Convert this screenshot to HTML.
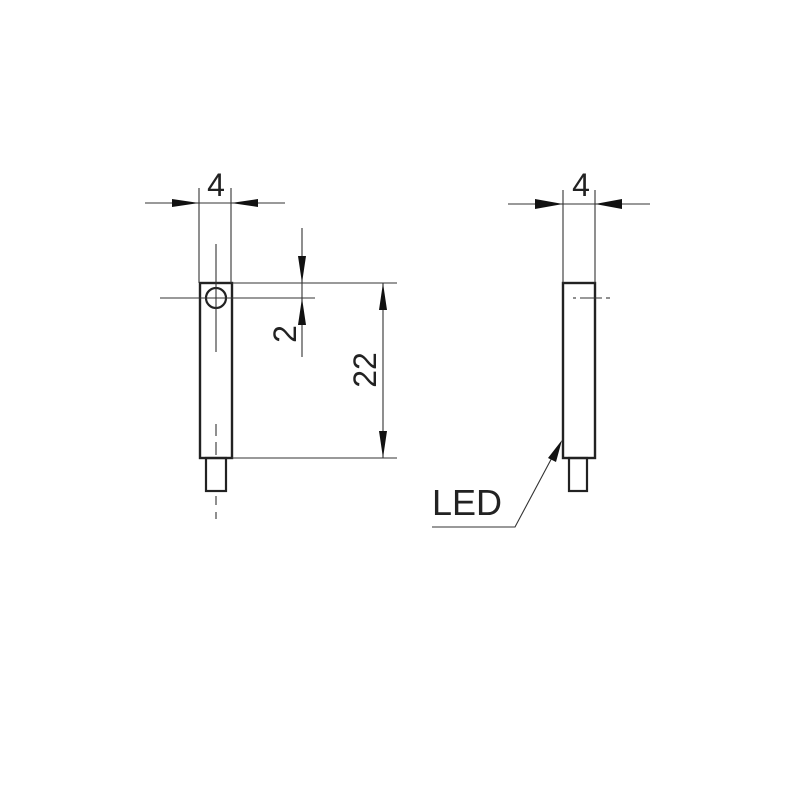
<!DOCTYPE html>
<html><head><style>body{margin:0;background:#fff}svg{display:block}</style></head><body>
<svg width="800" height="800" viewBox="0 0 800 800" xmlns="http://www.w3.org/2000/svg">
<rect width="800" height="800" fill="#fff"/>
<g stroke="#222" fill="none">
<rect x="200" y="283" width="32" height="175" stroke-width="2.4"/>
<circle cx="216" cy="298" r="10" stroke-width="2.2"/>
<rect x="206" y="458" width="20" height="33" stroke-width="2.2"/>
<rect x="563" y="283" width="32" height="175" stroke-width="2.4"/>
<rect x="569" y="458" width="18" height="33" stroke-width="2.2"/>
</g>
<g stroke="#333" stroke-width="1.1" fill="none">
<line x1="216" y1="244" x2="216" y2="352"/>
<line x1="216" y1="424" x2="216" y2="436"/><line x1="216" y1="442" x2="216" y2="455"/>
<line x1="216" y1="496" x2="216" y2="505"/><line x1="216" y1="512" x2="216" y2="519"/>
<line x1="160" y1="298" x2="315" y2="298"/>
<line x1="232" y1="283" x2="397" y2="283"/>
<line x1="232" y1="458" x2="397" y2="458"/>
<line x1="145" y1="203" x2="285" y2="203"/>
<line x1="199" y1="188" x2="199" y2="283"/>
<line x1="231" y1="188" x2="231" y2="283"/>
<line x1="302" y1="228" x2="302" y2="357"/>
<line x1="383" y1="283" x2="383" y2="458"/>
<line x1="508" y1="204" x2="650" y2="204"/>
<line x1="563" y1="190" x2="563" y2="283"/>
<line x1="595" y1="190" x2="595" y2="283"/>
<line x1="573" y1="298" x2="576" y2="298"/><line x1="580" y1="298" x2="602" y2="298"/><line x1="606" y1="298" x2="610" y2="298"/>
<polyline points="555,452 515,527 432,527"/>
</g>
<g fill="#111">
<polygon points="172,199 199,203 172,207"/>
<polygon points="258,199 231,203 258,207"/>
<polygon points="298,256 302,283 306,256"/>
<polygon points="298,325 302,298 306,325"/>
<polygon points="379,310 383,283 387,310"/>
<polygon points="379,431 383,458 387,431"/>
<polygon points="535,199 563,204 535,209"/>
<polygon points="622,199 595,204 622,209"/>
<polygon points="562,440 548,458 556,462"/>
</g>
<g font-family="Liberation Sans, sans-serif" font-size="32" fill="#222">
<text x="216" y="196" text-anchor="middle">4</text>
<text x="581" y="196" text-anchor="middle">4</text>
<text transform="translate(296,334) rotate(-90)" text-anchor="middle">2</text>
<text transform="translate(376,370) rotate(-90)" text-anchor="middle">22</text>
<text x="432" y="515" font-size="36">LED</text>
</g>
</svg>
</body></html>
